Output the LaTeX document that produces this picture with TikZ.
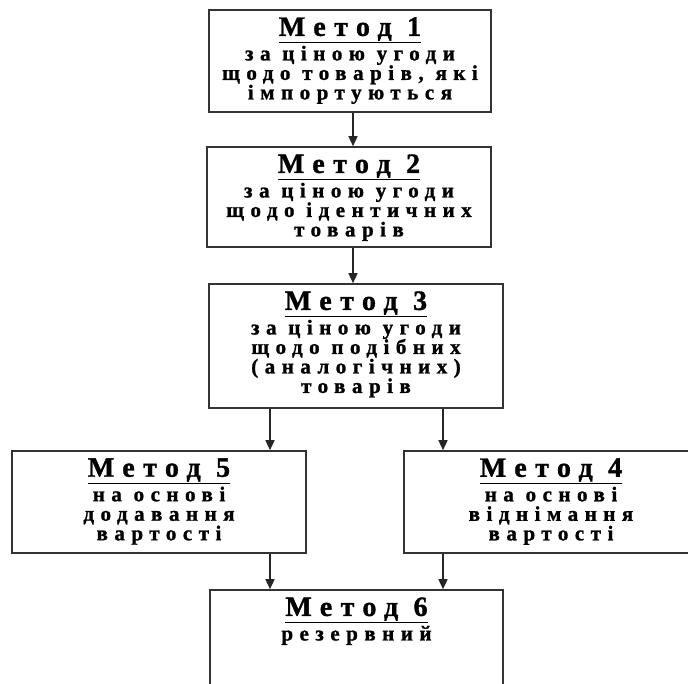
\documentclass[tikz,border=0pt]{standalone}
\usepackage{fontspec}
\setmainfont{Liberation Serif}
\newfontfamily\titlefont[LetterSpace=30, FakeBold=1.2]{Liberation Serif Bold}
\newfontfamily\notefont[LetterSpace=31, FakeBold=1.2]{Liberation Serif Bold}
\usetikzlibrary{arrows.meta, positioning}

\newcommand{\methodname}[1]{{\titlefont\fontsize{28}{19}\selectfont\underline{Метод #1}}}

\begin{document}
\begin{tikzpicture}[x=1pt, y=-1pt,
    box/.style 2 args={draw=black!80, line width=1.6pt, minimum width=#1, minimum height=#2, inner sep=0pt},
    note/.style={anchor=north, align=center, inner sep=0pt, yshift=-8pt,
        font=\notefont\fontsize{21}{19.5}\selectfont,
        execute at begin node={\lineskiplimit=-20pt}},
    arr/.style={-{Triangle[length=10pt, width=9pt]}, line width=1.5pt, draw=black!85}]

    \clip (0,0) rectangle (688,684);

    % boxes
    \node[box={282pt}{102pt}] (b1) at (350,61) {};
    \node[box={284pt}{100pt}] (b2) at (349,197) {};
    \node[box={294pt}{124pt}] (b3) at (356,346) {};
    \node[box={294pt}{102pt}] (b5) at (159,502) {};
    \node[box={294pt}{102pt}] (b4) at (551,502) {};
    \node[box={293pt}{110pt}] (b6) at (356.5,645) {};

    % texts
    \node[note] (t1) at (b1.north) {\methodname{1}\\[5pt]за ціною угоди\\щодо товарів, які\\імпортуються};
    \node[note] (t2) at (b2.north) {\methodname{2}\\[5pt]за ціною угоди\\щодо ідентичних\\товарів};
    \node[note] (t3) at (b3.north) {\methodname{3}\\[5pt]за ціною угоди\\щодо подібних\\(аналогічних)\\товарів};
    \node[note] (t5) at (b5.north) {\methodname{5}\\[5pt]на основі\\додавання\\вартості};
    \node[note] (t4) at (b4.north) {\methodname{4}\\[5pt]на основі\\віднімання\\вартості};
    \node[note] (t6) at (b6.north) {\methodname{6}\\[5pt]резервний};

    % arrows
    \coordinate (cx) at (353,0);
    \coordinate (cl) at (270,0);
    \coordinate (cr) at (443,0);
    \draw[arr] (b1.south -| cx) -- (b2.north -| cx);
    \draw[arr] (b2.south -| cx) -- (b3.north -| cx);
    \draw[arr] (b3.south -| cl) -- (b5.north -| cl);
    \draw[arr] (b3.south -| cr) -- (b4.north -| cr);
    \draw[arr] (b5.south -| cl) -- (b6.north -| cl);
    \draw[arr] (b4.south -| cr) -- (b6.north -| cr);
\end{tikzpicture}
\end{document}
